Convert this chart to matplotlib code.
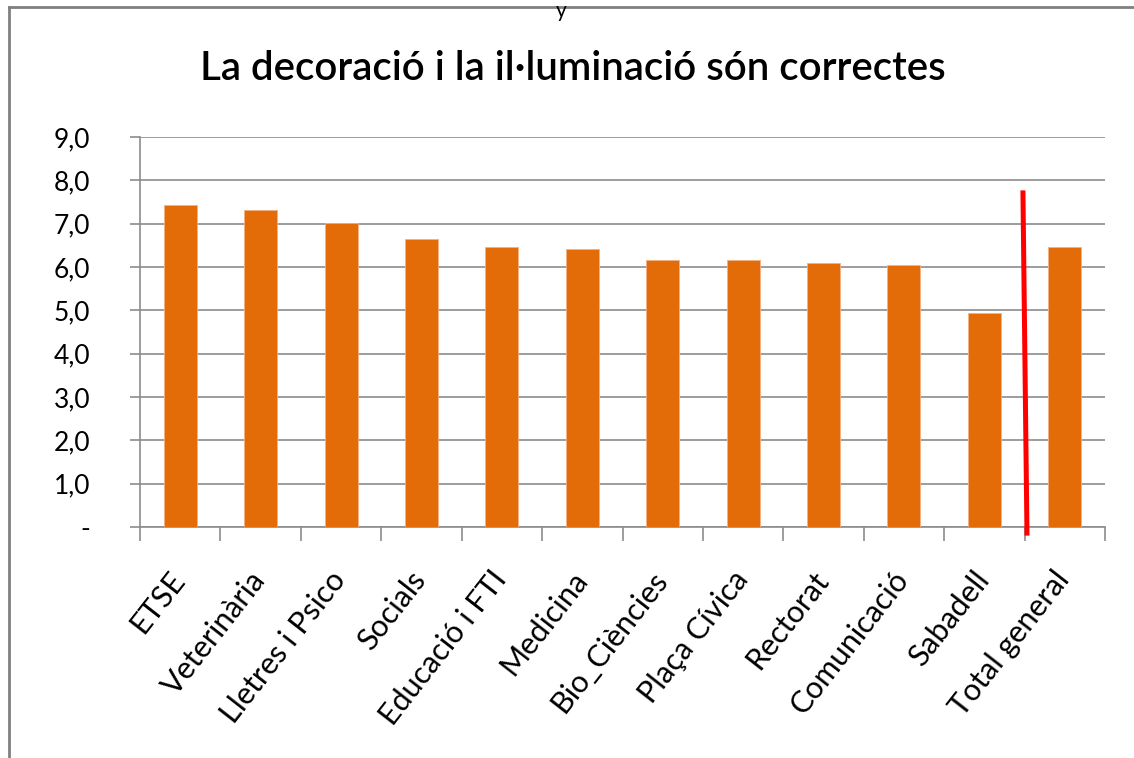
import matplotlib.pyplot as plt
import matplotlib.transforms as mtransforms
from matplotlib.lines import Line2D

categories = ["ETSE", "Veterinària", "Lletres i Psico", "Socials", "Educació i FTI",
              "Medicina", "Bio_Ciències", "Plaça Cívica", "Rectorat", "Comunicació",
              "Sabadell", "Total general"]
values = [7.43, 7.31, 7.01, 6.65, 6.45, 6.41, 6.16, 6.16, 6.09, 6.04, 4.95, 6.45]
ytick_values = [0, 1, 2, 3, 4, 5, 6, 7, 8, 9]
ytick_labels = ["-", "1,0", "2,0", "3,0", "4,0", "5,0", "6,0", "7,0", "8,0", "9,0"]
title = "La decoració i la il·luminació són correctes"

# red separator line drawn on the chart (data coords)
sep_x = [10.48, 10.53]
sep_y = [7.71, -0.14]

plt.rcParams["font.family"] = ["Lato", "DejaVu Sans"]

fig = plt.figure(figsize=(11.34, 7.58), dpi=100)
ax = fig.add_axes([0.1235, 0.3047, 0.8509, 0.5146])

x = list(range(len(categories)))
ax.bar(x, values, width=0.41, color="#E36C09", edgecolor="#F4B183", linewidth=0.6, zorder=3)

ax.set_xlim(-0.5, len(categories) - 0.5)
ax.set_ylim(0, 9)
ax.set_yticks(ytick_values)
ax.set_yticklabels(ytick_labels, fontsize=19)
ax.yaxis.grid(True, color="#8c8c8c", linewidth=1.2, zorder=0)
ax.tick_params(axis="y", length=7, width=1.2, color="#8c8c8c", pad=29)

# x ticks at category boundaries, labels at centres
ax.set_xticks([i - 0.5 for i in range(len(categories) + 1)])
ax.set_xticklabels([])
ax.set_xticks(x, minor=True)
ax.set_xticklabels(categories, minor=True, rotation=52, ha="right",
                   rotation_mode="anchor", fontsize=22)
ax.tick_params(axis="x", which="minor", length=0, pad=28)
ax.tick_params(axis="x", which="major", length=10, width=1.2, color="#8c8c8c")

# nudge the rotated labels a little to the left
shift = mtransforms.ScaledTranslation(-0.12, 0, fig.dpi_scale_trans)
for lbl in ax.get_xticklabels(minor=True):
    lbl.set_transform(lbl.get_transform() + shift)

for side in ["top", "right"]:
    ax.spines[side].set_visible(False)
for side in ["left", "bottom"]:
    ax.spines[side].set_color("#8c8c8c")
    ax.spines[side].set_linewidth(1.2)

ax.plot(sep_x, sep_y, color="#FF0000", linewidth=3.6, clip_on=False, zorder=5)

fig.text(0.505, 0.91, title, ha="center", va="center", fontsize=29, fontweight="semibold")
fig.text(0.495, 0.999, "y", ha="center", va="top", fontsize=15)

# outer chart frame (left and top edges visible)
fig.add_artist(Line2D([0.0075, 0.0075], [0, 0.9905], transform=fig.transFigure,
                      color="#808080", linewidth=2))
fig.add_artist(Line2D([0.0075, 1.0], [0.9905, 0.9905], transform=fig.transFigure,
                      color="#808080", linewidth=2))

fig.savefig("out.png", dpi=100)
